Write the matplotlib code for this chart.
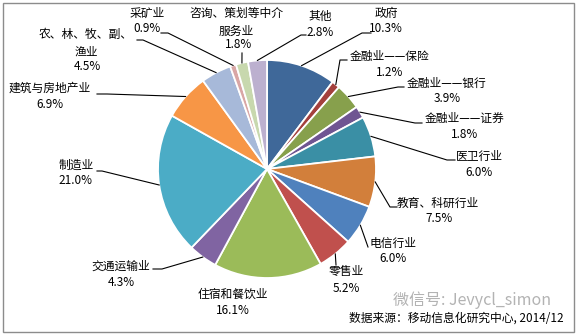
import numpy as np
import matplotlib
matplotlib.use("Agg")
import matplotlib.pyplot as plt
from matplotlib.patches import Rectangle

plt.rcParams['font.family'] = ['Noto Sans CJK SC', 'DejaVu Sans']

# data, clockwise from 12 o'clock
categories = ["政府", "金融业——保险", "金融业——银行", "金融业——证券", "医卫行业",
              "教育、科研行业", "电信行业", "零售业", "住宿和餐饮业", "交通运输业",
              "制造业", "建筑与房地产业", "农、林、牧、副、\n渔业", "采矿业",
              "咨询、策划等中介\n服务业", "其他"]
shares = [10.3, 1.2, 3.9, 1.8, 6.0, 7.5, 6.0, 5.2, 16.1, 4.3, 21.0, 6.9, 4.5, 0.9, 1.8, 2.8]
colors = ["#3F6899", "#A4403D", "#87A04C", "#6F5592", "#3A8FA5", "#D27F3B",
          "#4F81BD", "#C0504D", "#9BBB59", "#8064A2", "#4BACC6", "#F79646",
          "#A7B9D9", "#D9A6A5", "#C8D8AE", "#BCB0CF"]

# layout in pixels (y from top): label centre, pct centre, leader path after the slice edge
W, H = 577, 336
label_pos = [(386, 13), (390, 56), (447, 83), (465, 118), (479, 156),
             (438, 203), (393, 243), (346, 272), (233, 294), (121, 266),
             (76, 165), (50, 88), (86, 43), (147, 13), (236, 22), (320, 16)]
pct_pos = [(386, 29), (390, 72), (447, 99), (465, 134), (479, 173),
           (439, 219), (393, 259), (346, 288), (233, 310), (121, 282),
           (75, 181), (50, 104), (87, 67), (147, 28), (239, 44), (320, 33)]
leaders = [[(362, 33), (371, 33)], [(340, 60), (347, 60)], [(398, 87), (404, 87)],
           [(415, 123), (422, 123)], [(447, 160), (455, 160)], [(390, 207), (397, 207)],
           [(368, 247)], [(336, 265)], [], [(162, 269), (153, 269)],
           [(102, 171), (97, 171)], [(107, 94), (97, 94)], [(143, 40), (137, 40)],
           [(168, 33), (161, 33)], [(242, 53)], [(301, 35), (306, 35)]]

cx, cy, r = 267, 169, 109

fig = plt.figure(figsize=(W / 100, H / 100), dpi=100)
ax = fig.add_axes([0, 0, 1, 1])
wedges, _ = ax.pie(shares, colors=colors, startangle=90, counterclock=False,
                   center=(cx, H - cy), radius=r,
                   wedgeprops=dict(edgecolor="white", linewidth=1.3))
ax.set_xlim(0, W)
ax.set_ylim(0, H)
ax.set_aspect("equal")
ax.axis("off")

for i, w in enumerate(wedges):
    mid = np.deg2rad((w.theta1 + w.theta2) / 2)
    xs = [cx + r * np.cos(mid)] + [p[0] for p in leaders[i]]
    ys = [H - cy + r * np.sin(mid)] + [H - p[1] for p in leaders[i]]
    if len(xs) > 1:
        ax.plot(xs, ys, color="black", lw=0.8)
    lx, ly = label_pos[i]
    ax.text(lx, H - ly, categories[i], ha="center", va="center", fontsize=8.5,
            linespacing=1.5)
    px, py = pct_pos[i]
    ax.text(px, H - py, f"{shares[i]:.1f}%", ha="center", va="center", fontsize=8.5)

# watermark and source
ax.text(472, H - 300, "微信号: Jevycl_simon", ha="center", va="center",
        fontsize=11.5, color="#a0a0a0", alpha=0.8)
ax.text(456, H - 318, "数据来源：移动信息化研究中心, 2014/12", ha="center", va="center",
        fontsize=8.5, color="black")

ax.add_patch(Rectangle((3, H - 332), 571, 329, fill=False, edgecolor="#8c8c8c", lw=1))

fig.savefig("out.png", dpi=100)
